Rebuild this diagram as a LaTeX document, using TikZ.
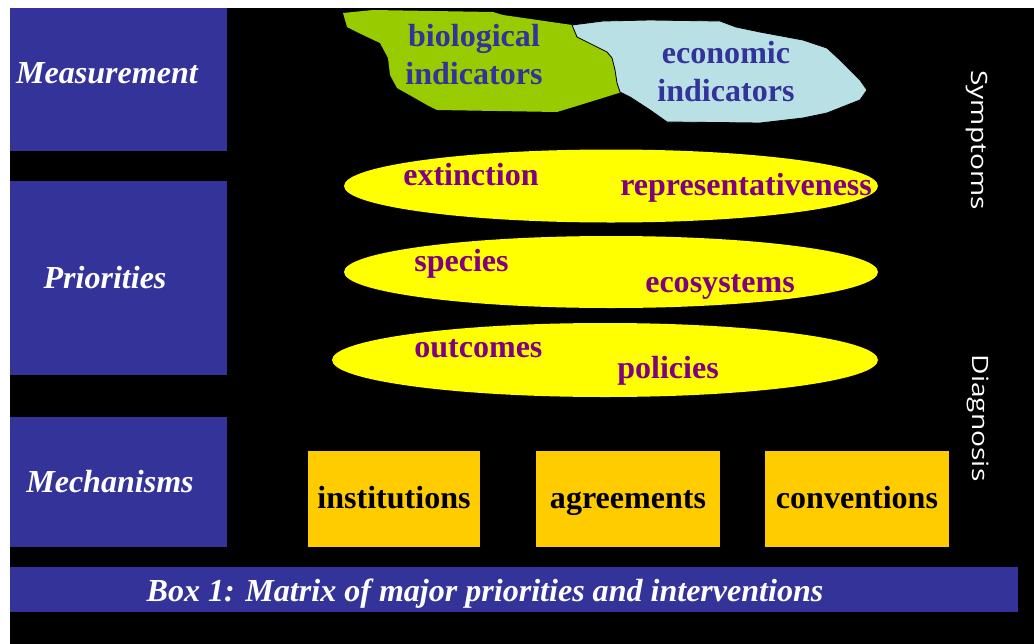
\documentclass[tikz,border=0pt]{standalone}
\usepackage{fontspec}
\setmainfont{Liberation Serif}
\newfontfamily\sidefont{Open Sans}
\usetikzlibrary{
    shapes.geometric,
    positioning
}
\definecolor{navy}{HTML}{333399}
\definecolor{leaf}{HTML}{99CC00}
\definecolor{sky}{HTML}{B9E0E5}
\definecolor{lemon}{HTML}{FFFF00}
\definecolor{plum}{HTML}{800080}
\definecolor{amber}{HTML}{FFCC00}
\newcommand{\bigfont}{\fontsize{22.8}{27}\selectfont}
\tikzset{
    % Row header box
    rowbox/.style={
        rectangle,
        fill=navy,
        minimum width=5.425cm,
        inner sep=0pt
    },
    % Row header and caption text
    rowlabel/.style={
        anchor=base,
        font=\bigfont\bfseries\itshape,
        text=white,
        inner sep=0pt
    },
    % Text on the indicator blobs
    blobtext/.style={
        align=center,
        font=\bigfont\bfseries,
        text=navy,
        inner sep=0pt
    },
    % Yellow oval
    oval/.style={
        ellipse,
        fill=lemon,
        minimum width=13.35cm,
        minimum height=1.825cm,
        inner sep=0pt
    },
    % Text on the ovals
    ovaltext/.style={
        anchor=base west,
        font=\bigfont\bfseries,
        text=plum,
        inner sep=0pt
    },
    % Mechanism box
    mechbox/.style={
        rectangle,
        fill=amber,
        minimum width=4.6cm,
        minimum height=2.4cm,
        font=\bigfont\bfseries,
        text=black,
        text height=12.8pt,
        text depth=0pt,
        inner sep=0pt
    },
    % Vertical side text
    sidetext/.style={
        rotate=-90,
        font=\sidefont\fontsize{16}{19}\selectfont,
        text=white,
        inner sep=0pt
    }
}

\begin{document}
\begin{tikzpicture}

    % Frame
    \fill[white] (0,0) rectangle (25.85,-16.1);
    \fill[black] (0.25,-0.2) rectangle (25.85,-16.1);
    \useasboundingbox (0,0) rectangle (25.85,-16.1);

    % Row headers
    \node[rowbox, minimum height=3.575cm] (meas) at (2.9625,-1.9875) {};
    \node[rowbox, minimum height=4.85cm] (prio) at (2.9625,-6.95) {};
    \node[rowbox, minimum height=3.25cm] (mech) at (2.9625,-12.05) {};
    \node[rowlabel] (measlbl) at (2.675,-2.075) {Measurement};
    \node[rowlabel] (priolbl) at (2.625,-7.2) {Priorities};
    \node[rowlabel] (mechlbl) at (2.75,-12.3) {Mechanisms};

    % Caption bar
    \node[rowbox, minimum width=25.2cm, minimum height=1.125cm] (bar) at (12.85,-14.7375) {};
    \node[rowlabel] (caption) at (12.125,-15.025) {Box 1: Matrix of major priorities and interventions};

    % Indicator blobs
    \fill[leaf] (8.575,-0.325) -- (9.325,-0.25) -- (12.325,-0.3) -- (12.575,-0.375)
        -- (14.3,-0.625) -- (15.25,-1.25) -- (15.55,-2.3) -- (14.5,-2.625)
        -- (13.925,-2.8) -- (10.925,-2.75) -- (10.675,-2.625) -- (10.325,-2.425)
        -- (9.925,-2.2) -- (9.75,-1.875) -- (9.7,-1.45) -- (9.5,-1.075)
        -- (9.075,-0.875) -- (8.675,-0.675) -- cycle;
    \filldraw[fill=sky, draw=black, line width=0.6pt] (14.3,-0.625) -- (15.075,-0.525)
        -- (16.25,-0.5) -- (18,-0.525) -- (18.4,-0.675) -- (19,-0.8) -- (20.075,-1)
        -- (20.675,-1.2) -- (21,-1.5) -- (21.5,-2) -- (21.675,-2.25) -- (21.5,-2.5)
        -- (20.675,-2.825) -- (20.075,-2.95) -- (19,-3.075) -- (16.675,-3.05)
        -- (16.25,-2.75) -- (15.75,-2.425) -- (15.5,-2.3) -- (15.425,-2.075)
        -- (15.375,-1.75) -- (15.3,-1.45) -- (15.175,-1.3) -- (14.925,-1.175)
        -- (14.675,-1.05) -- (14.425,-0.925) -- cycle;
    \node[blobtext] (bio) at (11.85,-1.375) {biological\\indicators};
    \node[blobtext] (eco) at (18.15,-1.8) {economic\\indicators};

    % Ovals
    \node[oval] (oval1) at (15.275,-4.65) {};
    \node[oval, minimum height=1.8cm] (oval2) at (15.275,-6.8) {};
    \node[oval, minimum width=13.65cm, minimum height=1.85cm] (oval3) at (15.125,-9) {};
    \node[ovaltext] (ext) at (10.075,-4.625) {extinction};
    \node[ovaltext] (repr) at (15.5,-4.875) {representativeness};
    \node[ovaltext] (spec) at (10.35,-6.775) {species};
    \node[ovaltext] (ecos) at (16.125,-7.3) {ecosystems};
    \node[ovaltext] (outc) at (10.35,-8.925) {outcomes};
    \node[ovaltext] (poli) at (15.425,-9.45) {policies};

    % Mechanisms
    \node[mechbox, minimum width=4.3cm] (inst) at (9.85,-12.475) {institutions};
    \node[mechbox] (agree) at (15.7,-12.475) {agreements};
    \node[mechbox] (conv) at (21.425,-12.475) {conventions};

    % Side labels
    \node[sidetext] (symp) at (24.425,-3.5) {\scalebox{1.25}[1]{Symptoms}};
    \node[sidetext] (diag) at (24.45,-10.45) {\scalebox{1.25}[1]{Diagnosis}};

\end{tikzpicture}
\end{document}
